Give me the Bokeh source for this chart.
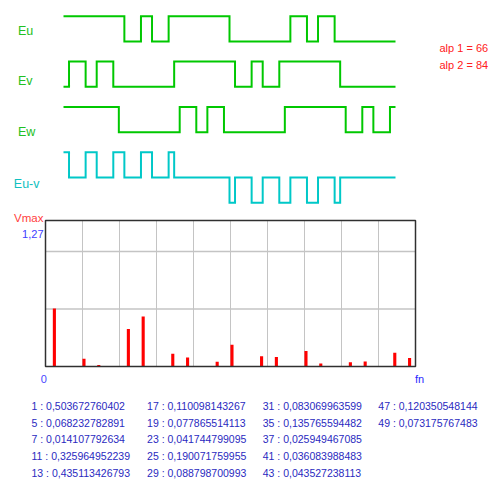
from bokeh.plotting import figure
from bokeh.layouts import column
from bokeh.models import Range1d, Label, ColumnDataSource
from bokeh.core.properties import value
from bokeh.transform import dodge
from bokeh.embed import file_html
from bokeh.resources import INLINE

# ---------------- data ----------------
alpha1 = 66
alpha2 = 84

# switching angles (degrees) and logic levels of each phase (step "after")
eu_deg = [0, 66, 84, 96, 114, 180, 246, 264, 276, 294, 360]
eu_lvl = [1, 0, 1, 0, 1, 0, 1, 0, 1, 0, 0]
ev_deg = [0, 6, 24, 36, 54, 120, 186, 204, 216, 234, 300, 360]
ev_lvl = [0, 1, 0, 1, 0, 1, 0, 1, 0, 1, 0, 0]
ew_deg = [0, 60, 126, 144, 156, 174, 240, 306, 324, 336, 354, 360]
ew_lvl = [1, 0, 1, 0, 1, 0, 1, 0, 1, 0, 1, 1]
euv_deg = [0, 6, 24, 36, 54, 66, 84, 96, 114, 120, 180, 186, 204, 216, 234,
           246, 264, 276, 294, 300, 360]
euv_lvl = [1, 0, 1, 0, 1, 0, 1, 0, 1, 0, -1, 0, -1, 0, -1, 0, -1, 0, -1, 0, 0]

harmonics = [1, 5, 7, 11, 13, 17, 19, 23, 25, 29, 31, 35, 37, 41, 43, 47, 49]
amplitudes = [0.503672760402, 0.068232782891, 0.014107792634, 0.325964952239,
              0.435113426793, 0.110098143267, 0.077865514113, 0.041744799095,
              0.190071759955, 0.088798700993, 0.083069963599, 0.135765594482,
              0.025949467085, 0.036083988483, 0.043527238113, 0.120350548144,
              0.073175767483]
vmax = 1.27
fn_max = 50
grid_x = [5, 10, 15, 20, 25, 30, 35, 40, 45]
grid_y = [0.5, 1.0]

# ---------------- styling ----------------
FONT_NAME = "Liberation Sans"
FONT = value(FONT_NAME)
W = 491
GREEN = "#00c800"
CYAN = "#00c8c8"
RED = "#ff0000"


def base_fig(h, xr, yr):
    return figure(width=W, height=h, x_range=xr, y_range=yr,
                  x_axis_type=None, y_axis_type=None, toolbar_location=None,
                  output_backend="svg", min_border=0, outline_line_color=None,
                  background_fill_color="white", border_fill_color="white")


# ---------------- waveform panel ----------------
H1 = 213
PXD = 332 / 360.0      # px per degree
X0 = 63                # page x of 0 deg
U = 25.2               # px per logic level
Z = 177                # page y of Eu-v zero line
p1 = base_fig(H1, Range1d(-X0 / PXD, 360 + (W - X0 - 332) / PXD),
              Range1d(-(H1 - Z) / U, Z / U))

traces = [(eu_deg, eu_lvl, 5.4, GREEN), (ev_deg, ev_lvl, 3.6, GREEN),
          (ew_deg, ew_lvl, 1.8, GREEN), (euv_deg, euv_lvl, 0.0, CYAN)]
for xs, lv, base, col in traces:
    p1.step(x=xs, y=[v + base for v in lv], mode="after", line_color=col,
            line_width=2, line_join="miter")


def px1(x):
    return (x - X0) / PXD


def py1(y):
    return (Z - y) / U


for txt, x, y, col in [("Eu", 17.5, 30, "#22c022"), ("Ev", 17.5, 80, "#22c022"),
                       ("Ew", 17.5, 131, "#22c022"), ("Eu-v", 13.3, 183, "#10c0c0")]:
    p1.add_layout(Label(x=px1(x), y=py1(y), text=txt, text_font=FONT_NAME,
                        text_font_size="12.5px", text_color=col,
                        text_align="left", text_baseline="middle"))
p1.add_layout(Label(x=px1(439), y=py1(47), text=f"alp 1 = {alpha1}", text_font=FONT_NAME,
                    text_font_size="11px", text_color="#ff2020",
                    text_align="left", text_baseline="middle"))
p1.add_layout(Label(x=px1(439), y=py1(64), text=f"alp 2 = {alpha2}", text_font=FONT_NAME,
                    text_font_size="11px", text_color="#ff2020",
                    text_align="left", text_baseline="middle"))

# ---------------- spectrum panel ----------------
H2 = 177
TOP2 = H1              # page y where this panel starts
FX0, FX1 = 45, 415     # page x of plot frame
FY0, FY1 = 220, 366    # page y of plot frame (top, bottom)
PXN = (FX1 - FX0) / fn_max
PXU = (FY1 - FY0) / vmax
p2 = base_fig(H2, Range1d(-FX0 / PXN, fn_max + (W - FX1) / PXN),
              Range1d(-(TOP2 + H2 - FY1) / PXU, (FY1 - TOP2) / PXU))

p2.segment(x0=grid_x, x1=grid_x, y0=0, y1=vmax, line_color="#c4c4c4", line_width=1)
p2.segment(x0=0, x1=fn_max, y0=grid_y, y1=grid_y, line_color="#c4c4c4", line_width=1.5)
src = ColumnDataSource(dict(n=harmonics, a=amplitudes))
p2.vbar(x=dodge("n", 0.2, range=p2.x_range), width=0.42, bottom=0, top="a",
        source=src, fill_color=RED, line_color=None)
p2.quad(left=[0], right=[fn_max], bottom=[0], top=[vmax], fill_color=None,
        line_color="#303030", line_width=1.5)


def px2(x):
    return (x - FX0) / PXN


def py2(y):
    return (FY1 - y) / PXU


p2.add_layout(Label(x=px2(43), y=py2(217), text="Vmax", text_font=FONT_NAME,
                    text_font_size="11.5px", text_color="#ff4040",
                    text_align="right", text_baseline="middle"))
p2.add_layout(Label(x=px2(43), y=py2(233.5), text=f"{vmax}".replace(".", ","),
                    text_font=FONT_NAME, text_font_size="11px", text_color="#4040ff",
                    text_align="right", text_baseline="middle"))
p2.add_layout(Label(x=px2(43.4), y=py2(378.5), text="0", text_font=FONT_NAME,
                    text_font_size="11px", text_color="#4848ff",
                    text_align="center", text_baseline="middle"))
p2.add_layout(Label(x=px2(419), y=py2(378.5), text="fn", text_font=FONT_NAME,
                    text_font_size="11px", text_color="#2828ff",
                    text_align="center", text_baseline="middle"))

# ---------------- value table ----------------
TOP3 = H1 + H2
H3 = 481 - TOP3
CW = 115.6
RH = 16.65
R0 = 405.5
C0 = 31
p3 = base_fig(H3, Range1d(-C0 / CW, (W - C0) / CW),
              Range1d((TOP3 + H3 - R0) / RH, (TOP3 - R0) / RH))
labels = [f"{n} : {a:.12f}".replace(".", ",") for n, a in zip(harmonics, amplitudes)]
tsrc = ColumnDataSource(dict(col=[i // 5 for i in range(len(labels))],
                             row=[i % 5 for i in range(len(labels))],
                             t=labels))
p3.text(x="col", y="row", text="t", source=tsrc, text_font=FONT,
        text_font_size="10.5px", text_color="#2a2ac0",
        text_align="left", text_baseline="middle")

layout = column(p1, p2, p3, spacing=0)
open("out.html", "w").write(file_html(layout, INLINE))
